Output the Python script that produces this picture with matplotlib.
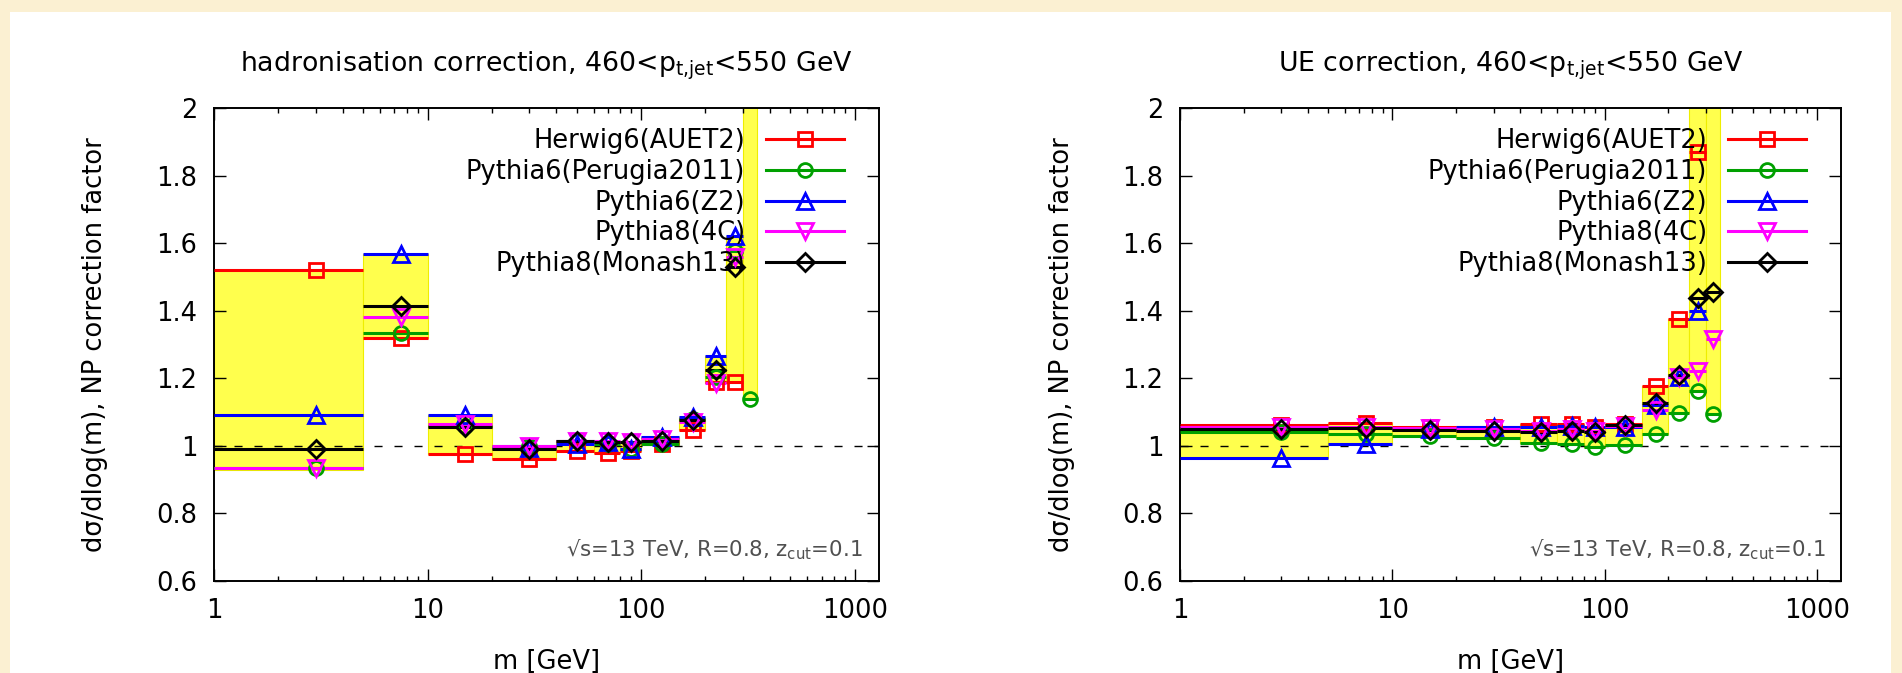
import numpy as np
import matplotlib
matplotlib.use("Agg")
import matplotlib.pyplot as plt
from matplotlib.lines import Line2D
from matplotlib.patches import Rectangle
from matplotlib.ticker import LogLocator, NullFormatter

# mass bins [GeV]
bin_lo = [1, 5, 10, 20, 40, 60, 80, 100, 150, 200, 250, 300]
bin_hi = [5, 10, 20, 40, 60, 80, 100, 150, 200, 250, 300, 350]

generators = ["Herwig6(AUET2)", "Pythia6(Perugia2011)", "Pythia6(Z2)",
              "Pythia8(4C)", "Pythia8(Monash13)"]
colors = ["#ff0000", "#00a000", "#0000ff", "#ff00ff", "#000000"]
markers = ["s", "o", "^", "v", "D"]
marker_sizes = [10, 10, 11, 11, 9]

# hadronisation correction (values above 2 are off scale)
had_herwig6 = [1.52, 1.32, 0.977, 0.96, 0.985, 0.98, 0.985, 1.005, 1.046, 1.19, 1.19, 2.6]
had_perugia = [0.935, 1.335, 1.06, 1.0, 1.015, 1.005, 0.99, 1.005, 1.08, 1.205, 1.578, 1.14]
had_z2 = [1.09, 1.567, 1.09, 0.995, 1.005, 1.01, 0.99, 1.025, 1.085, 1.265, 1.622, 2.3]
had_4c = [0.933, 1.38, 1.065, 1.0, 1.015, 1.015, 1.01, 1.02, 1.07, 1.185, 1.56, 2.5]
had_monash = [0.99, 1.413, 1.057, 0.99, 1.014, 1.01, 1.01, 1.015, 1.078, 1.225, 1.53, 2.4]
had_band_lo = [0.93, 1.32, 0.977, 0.96, 0.985, 0.98, 0.985, 1.005, 1.046, 1.185, 1.19, 1.14]
had_band_hi = [1.52, 1.567, 1.09, 1.0, 1.015, 1.015, 1.01, 1.025, 1.085, 1.265, 1.622, 2.6]

# UE correction
ue_herwig6 = [1.063, 1.067, 1.055, 1.055, 1.066, 1.065, 1.055, 1.065, 1.177, 1.375, 1.869, 2.4]
ue_perugia = [1.04, 1.036, 1.03, 1.022, 1.007, 1.005, 0.998, 1.002, 1.036, 1.098, 1.162, 1.093]
ue_z2 = [0.963, 1.006, 1.05, 1.055, 1.057, 1.06, 1.055, 1.055, 1.12, 1.205, 1.40, 2.2]
ue_4c = [1.055, 1.055, 1.052, 1.05, 1.045, 1.05, 1.045, 1.06, 1.107, 1.205, 1.222, 1.315]
ue_monash = [1.051, 1.052, 1.048, 1.045, 1.042, 1.045, 1.04, 1.063, 1.126, 1.209, 1.438, 1.454]
ue_band_lo = [0.963, 1.006, 1.03, 1.022, 1.007, 1.005, 0.998, 1.002, 1.036, 1.098, 1.162, 1.093]
ue_band_hi = [1.063, 1.067, 1.055, 1.055, 1.066, 1.065, 1.055, 1.065, 1.177, 1.375, 2.5, 2.5]

x_ticks = [1, 10, 100, 1000]
x_tick_labels = ["1", "10", "100", "1000"]
y_ticks = [0.6, 0.8, 1.0, 1.2, 1.4, 1.6, 1.8, 2.0]
y_tick_labels = ["0.6", "0.8", "1", "1.2", "1.4", "1.6", "1.8", "2"]

FS = 18.5


def draw_panel(ax, series, band_lo, band_hi, title):
    lo = np.array(bin_lo, dtype=float)
    hi = np.array(bin_hi, dtype=float)
    centers = (lo + hi) / 2

    # yellow envelope of the generators
    ax.bar(lo, np.array(band_hi) - np.array(band_lo), bottom=band_lo, width=hi - lo,
           align="edge", color="#ffff4d", edgecolor="#eeee00", linewidth=0.8, zorder=1)
    ax.axhline(1.0, color="black", lw=1.0, ls=(0, (5.8, 8.6)), zorder=2)

    for vals, c, m, ms in zip(series, colors, markers, marker_sizes):
        ax.hlines(vals, lo, hi, colors=c, lw=2.2, zorder=3)
        ax.plot(centers, vals, ls="none", marker=m, ms=ms, mfc="none", mec=c, mew=2, zorder=4)

    ax.set_xscale("log")
    ax.set_xlim(1, 1300)
    ax.set_ylim(0.6, 2.0)
    ax.set_xticks(x_ticks)
    ax.set_xticklabels(x_tick_labels)
    ax.xaxis.set_minor_locator(LogLocator(base=10, subs=np.arange(2, 10)))
    ax.xaxis.set_minor_formatter(NullFormatter())
    ax.set_yticks(y_ticks)
    ax.set_yticklabels(y_tick_labels)
    ax.tick_params(which="both", direction="in", top=True, right=True)
    ax.tick_params(which="major", length=8.6, width=1, labelsize=FS, pad=12)
    ax.tick_params(which="minor", length=3.6, width=1)
    for sp in ax.spines.values():
        sp.set_linewidth(1.4)

    ax.set_title(title, fontsize=19.3, pad=26.5)
    ax.set_xlabel("m [GeV]", fontsize=FS)
    ax.xaxis.set_label_coords(0.5, -0.144)
    ax.set_ylabel("dσ/dlog(m), NP correction factor", fontsize=FS)
    ax.yaxis.set_label_coords(-0.159, 0.5)

    ax.text(0.976, 0.051, r"√s=13 TeV, R=0.8, z$_{\mathrm{cut}}$=0.1", transform=ax.transAxes,
            ha="right", va="baseline", fontsize=15.3, color="#505050")

    handles = [Line2D([], [], color=c, lw=2.2, marker=m, ms=ms, mfc="none", mec=c, mew=2)
               for c, m, ms in zip(colors, markers, marker_sizes)]
    ax.legend(handles, generators, loc="upper right", bbox_to_anchor=(0.963, 0.980),
              frameon=False, markerfirst=False, numpoints=1, fontsize=FS,
              handlelength=3.05, handletextpad=0.8, labelspacing=0.19, borderaxespad=0)


def main():
    fig = plt.figure(figsize=(19.02, 6.73), dpi=100)
    fig.patch.set_facecolor("#fbf0d2")
    fig.add_artist(Rectangle((10 / 1902, 0), 1881 / 1902, 1 - 12 / 673,
                             transform=fig.transFigure, facecolor="white",
                             edgecolor="none", zorder=0))

    ax1 = fig.add_axes([214 / 1902, 1 - 581 / 673, 665 / 1902, 473 / 673])
    ax2 = fig.add_axes([1180 / 1902, 1 - 581 / 673, 661 / 1902, 473 / 673])

    draw_panel(ax1, [had_herwig6, had_perugia, had_z2, had_4c, had_monash],
               had_band_lo, had_band_hi,
               r"hadronisation correction, 460<p$_{\mathrm{t{,}jet}}$<550 GeV")
    draw_panel(ax2, [ue_herwig6, ue_perugia, ue_z2, ue_4c, ue_monash],
               ue_band_lo, ue_band_hi,
               r"UE correction, 460<p$_{\mathrm{t{,}jet}}$<550 GeV")

    fig.savefig("out.png", dpi=100, facecolor=fig.get_facecolor())


if __name__ == "__main__":
    main()
